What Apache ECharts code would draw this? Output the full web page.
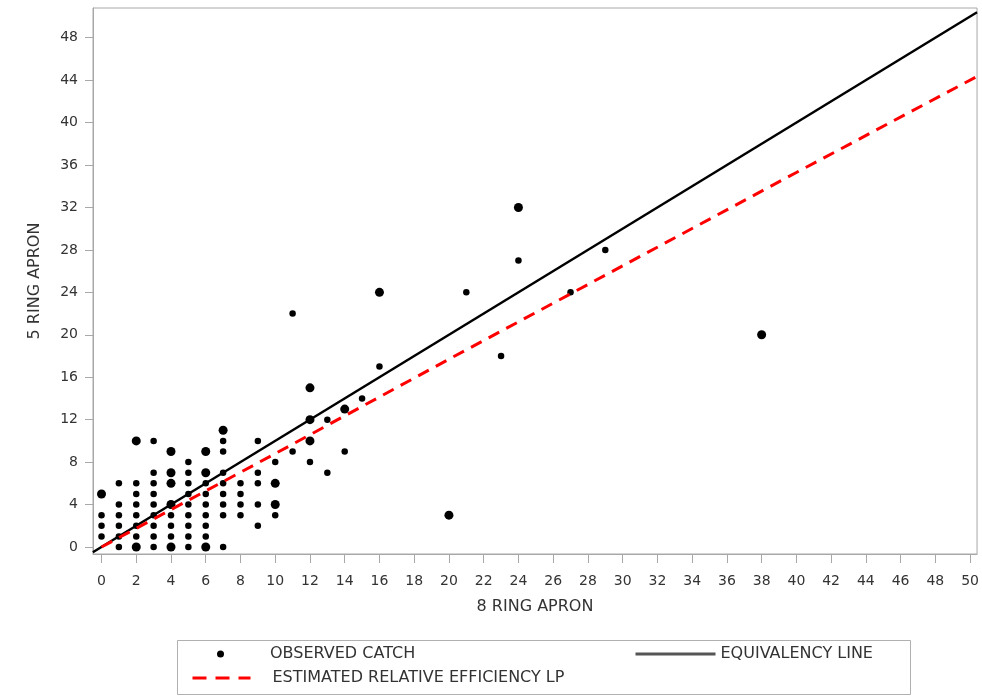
<!DOCTYPE html>
<html>
<head>
<meta charset="utf-8">
<script src="https://cdn.jsdelivr.net/npm/echarts@6/dist/echarts.min.js"></script>
<style>
  html, body { margin: 0; padding: 0; background: #fff; }
  #chart { width: 982px; height: 698px; }
</style>
</head>
<body>
<div id="chart"></div>
<script>
// Observed catch: [8 ring apron, 5 ring apron, weight(1 = single, 2 = overlapping obs)]
const observedCatch = [
  [0,1,1],[0,2,1],[0,3,1],[0,5,2],
  [1,0,1],[1,1,1],[1,2,1],[1,3,1],[1,4,1],[1,6,1],
  [2,0,2],[2,1,1],[2,2,1],[2,3,1],[2,4,1],[2,5,1],[2,6,1],[2,10,2],
  [3,0,1],[3,1,1],[3,2,1],[3,3,1],[3,4,1],[3,5,1],[3,6,1],[3,7,1],[3,10,1],
  [4,0,2],[4,1,1],[4,2,1],[4,3,1],[4,4,2],[4,6,2],[4,7,2],[4,9,2],
  [5,0,1],[5,1,1],[5,2,1],[5,3,1],[5,4,1],[5,5,1],[5,6,1],[5,7,1],[5,8,1],
  [6,0,2],[6,1,1],[6,2,1],[6,3,1],[6,4,1],[6,5,1],[6,6,1],[6,7,2],[6,9,2],
  [7,0,1],[7,3,1],[7,4,1],[7,5,1],[7,6,1],[7,7,1],[7,9,1],[7,10,1],[7,11,2],
  [8,3,1],[8,4,1],[8,5,1],[8,6,1],
  [9,2,1],[9,4,1],[9,6,1],[9,7,1],[9,10,1],
  [10,3,1],[10,4,2],[10,6,2],[10,8,1],
  [11,9,1],[11,22,1],
  [12,8,1],[12,10,2],[12,12,2],[12,15,2],
  [13,7,1],[13,12,1],
  [14,9,1],[14,13,2],
  [15,14,1],
  [16,17,1],[16,24,2],
  [20,3,2],
  [21,24,1],
  [23,18,1],
  [24,27,1],[24,32,2],
  [27,24,1],
  [29,28,1],
  [38,20,2]
];
// Equivalency line (y = x) end points
const equivalencyLine = [[-0.5,-0.5],[50.4,50.4]];
// Estimated relative efficiency LP line
const efficiencyLine = [[0,0],[10,8.8],[20,17.7],[30,26.5],[40,35.3],[50.4,44.35]];
// Tick labels
const xTicks = [0,2,4,6,8,10,12,14,16,18,20,22,24,26,28,30,32,34,36,38,40,42,44,46,48,50];
const yTicks = [0,4,8,12,16,20,24,28,32,36,40,44,48];

const FONT = 'DejaVu Sans';
const chart = echarts.init(document.getElementById('chart'), null, { renderer: 'canvas' });
chart.setOption({
  animation: false,
  backgroundColor: '#ffffff',
  grid: {
    left: 93, right: 4, top: 8, bottom: 144,
    show: true, borderColor: '#a8a8a8', borderWidth: 1, backgroundColor: 'transparent'
  },
  xAxis: {
    type: 'value', min: -0.49, max: 50.4,
    name: '8 RING APRON', nameLocation: 'middle', nameGap: 45,
    nameTextStyle: { fontFamily: FONT, fontSize: 16, color: '#333' },
    axisLine: { show: true, onZero: false, lineStyle: { color: '#a8a8a8', width: 1 } },
    axisTick: { show: true, length: 9, customValues: xTicks, lineStyle: { color: '#a8a8a8' } },
    axisLabel: { customValues: xTicks, margin: 20, fontFamily: FONT, fontSize: 14, color: '#333' },
    splitLine: { show: false }
  },
  yAxis: {
    type: 'value', min: -0.66, max: 50.8,
    name: '5 RING APRON', nameLocation: 'middle', nameGap: 50, nameRotate: 90,
    nameTextStyle: { fontFamily: FONT, fontSize: 16, color: '#333' },
    axisLine: { show: true, onZero: false, lineStyle: { color: '#a8a8a8', width: 1 } },
    axisTick: { show: true, length: 8, customValues: yTicks, lineStyle: { color: '#a8a8a8' } },
    axisLabel: { customValues: yTicks, margin: 15, fontFamily: FONT, fontSize: 14, color: '#333' },
    splitLine: { show: false }
  },
  legend: [
    {
      data: ['OBSERVED CATCH'], left: 217, top: 646, padding: 0,
      itemWidth: 7, itemHeight: 7, icon: 'circle',
      itemStyle: { color: '#000' },
      textStyle: { fontFamily: FONT, fontSize: 16, color: '#333', padding: [0, 0, 0, 41] }
    },
    {
      data: ['EQUIVALENCY LINE'], left: 634, top: 646, padding: 0,
      itemWidth: 80, itemHeight: 14,
      lineStyle: { color: '#555', width: 3 },
      itemStyle: { opacity: 0, color: 'rgba(0,0,0,0)', borderWidth: 0 },
      textStyle: { fontFamily: FONT, fontSize: 16, color: '#333' }
    },
    {
      data: ['ESTIMATED RELATIVE EFFICIENCY LP'], left: 191, top: 670, padding: 0,
      itemWidth: 58, itemHeight: 14,
      lineStyle: { color: '#ff0000', width: 3, type: [14, 9] },
      itemStyle: { opacity: 0, color: 'rgba(0,0,0,0)', borderWidth: 0 },
      textStyle: { fontFamily: FONT, fontSize: 16, color: '#333', padding: [0, 0, 0, 17] }
    }
  ],
  graphic: [
    {
      type: 'rect', left: 175, top: 638, silent: true,
      shape: { width: 733, height: 54 },
      style: { fill: 'none', stroke: '#b0b0b0', lineWidth: 1 }
    }
  ],
  series: [
    {
      name: 'OBSERVED CATCH', type: 'scatter',
      data: observedCatch,
      symbol: 'circle',
      symbolSize: function (v) { return v[2] > 1 ? 9 : 6.5; },
      itemStyle: { color: '#000000', opacity: 1 },
      z: 3
    },
    {
      name: 'EQUIVALENCY LINE', type: 'line',
      data: equivalencyLine, symbol: 'none', clip: true,
      itemStyle: { color: '#000000' },
      lineStyle: { color: '#000000', width: 2.5, type: 'solid' },
      z: 4
    },
    {
      name: 'ESTIMATED RELATIVE EFFICIENCY LP', type: 'line',
      data: efficiencyLine, symbol: 'none', clip: true,
      itemStyle: { color: '#ff0000' },
      lineStyle: { color: '#ff0000', width: 3, type: [12, 8] },
      z: 5
    }
  ]
});
</script>
</body>
</html>
